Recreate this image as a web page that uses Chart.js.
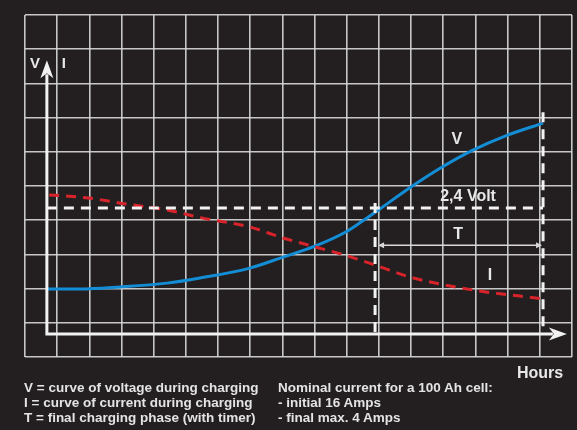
<!DOCTYPE html>
<html>
<head>
<meta charset="utf-8">
<script src="https://cdn.jsdelivr.net/npm/chart.js@4/dist/chart.umd.min.js"></script>
<style>
  html, body { margin: 0; padding: 0; background: #231f20; }
  #wrap { position: relative; width: 577px; height: 430px; overflow: hidden; background: #231f20; }
  canvas { position: absolute; left: 0; top: 0; }
  .note { position: absolute; top: 380px; font: bold 13.5px "Liberation Sans", Arial, sans-serif; line-height: 15.2px; color: #e4e4e4; white-space: pre; }
</style>
</head>
<body>
<div id="wrap">
  <canvas id="c" width="577" height="430"></canvas>
  <div class="note" id="noteL" style="left:24px"></div>
  <div class="note" id="noteR" style="left:278px"></div>
</div>
<script>
// ---- data (grid units: 17 columns of time, 10 rows) ----
const voltHours   = [0.68, 1.71, 2.95, 4.41, 5.44, 6.99, 8.02, 9.01, 9.94, 10.48, 11.03, 11.96, 12.90, 13.92, 14.92, 16.10];
const voltValues  = [1.99, 1.99, 2.05, 2.16, 2.31, 2.60, 2.92, 3.24, 3.64, 3.97, 4.33, 4.95, 5.52, 6.05, 6.46, 6.84];
const currHours   = [0.75, 1.96, 3.17, 4.41, 5.53, 6.99, 8.02, 9.01, 9.94, 10.88, 11.96, 13.92, 16.10];
const currValues  = [4.74, 4.65, 4.47, 4.30, 4.06, 3.80, 3.48, 3.22, 2.98, 2.69, 2.34, 1.96, 1.70];
const axisOrigin  = [0.68, 0.67];
const axisTips    = [16.84, 8.68];
const finalVoltage = 4.36;          // "2,4 Volt" level
const phaseStart  = 10.88;          // start of final phase T
const phaseEnd    = 16.10;          // end of charging (timer)
const phaseArrowY = 3.27;
const rightLineTop = 7.16;
const leftLineTop  = 4.50;
const labels = [
  { text: "V",        x: 0.31,  y: 8.57, size: 15 },
  { text: "I",        x: 1.21,  y: 8.57, size: 15 },
  { text: "V",        x: 13.42, y: 6.35, size: 16 },
  { text: "2,4 Volt", x: 13.77, y: 4.68, size: 16 },
  { text: "T",        x: 13.46, y: 3.57, size: 16 },
  { text: "I",        x: 14.45, y: 2.37, size: 16 }
];
const notesLeft  = ["V = curve of voltage during charging", "I = curve of current during charging", "T = final charging phase (with timer)"];
const notesRight = ["Nominal current for a 100 Ah cell:", "- initial 16 Amps", "- final max. 4 Amps"];
const xTitle = "Hours";

document.getElementById('noteL').textContent = notesLeft.join("\n");
document.getElementById('noteR').textContent = notesRight.join("\n");

const pts = (xs, ys) => xs.map((x, i) => ({ x: x, y: ys[i] }));

const white = '#f2f2f2';
const dashStyle = { borderColor: white, borderWidth: 3, borderDash: [10, 7], pointRadius: 0, fill: false, tension: 0 };

const overlay = {
  id: 'overlay',
  afterDatasetsDraw(chart) {
    const ctx = chart.ctx, xs = chart.scales.x, ys = chart.scales.y;
    const X = v => xs.getPixelForValue(v), Y = v => ys.getPixelForValue(v);
    ctx.save();
    // axes
    const ox = X(axisOrigin[0]), oy = Y(axisOrigin[1]);
    const tx = X(axisTips[0]), ty = Y(axisTips[1]);
    ctx.strokeStyle = white; ctx.fillStyle = white; ctx.lineWidth = 3; ctx.setLineDash([]);
    ctx.beginPath();
    ctx.moveTo(ox, ty + 14); ctx.lineTo(ox, oy); ctx.lineTo(tx - 14, oy);
    ctx.stroke();
    // arrowheads
    ctx.beginPath();
    ctx.moveTo(ox, ty); ctx.lineTo(ox - 6.5, ty + 18); ctx.lineTo(ox, ty + 13); ctx.lineTo(ox + 6.5, ty + 18); ctx.closePath(); ctx.fill();
    ctx.beginPath();
    ctx.moveTo(tx, oy); ctx.lineTo(tx - 18, oy - 6.5); ctx.lineTo(tx - 13, oy); ctx.lineTo(tx - 18, oy + 6.5); ctx.closePath(); ctx.fill();
    // T arrow
    const ay = Y(phaseArrowY), ax1 = X(phaseStart) + 3, ax2 = X(phaseEnd) - 1;
    ctx.strokeStyle = '#d8d8d8'; ctx.fillStyle = '#d8d8d8'; ctx.lineWidth = 1.5;
    ctx.beginPath(); ctx.moveTo(ax1 + 3, ay); ctx.lineTo(ax2 - 3, ay); ctx.stroke();
    ctx.beginPath(); ctx.moveTo(ax1, ay); ctx.lineTo(ax1 + 6, ay - 3); ctx.lineTo(ax1 + 6, ay + 3); ctx.closePath(); ctx.fill();
    ctx.beginPath(); ctx.moveTo(ax2, ay); ctx.lineTo(ax2 - 6, ay - 3); ctx.lineTo(ax2 - 6, ay + 3); ctx.closePath(); ctx.fill();
    // labels
    ctx.fillStyle = '#e8e8e8'; ctx.textAlign = 'center'; ctx.textBaseline = 'middle';
    labels.forEach(l => {
      ctx.font = 'bold ' + l.size + 'px "Liberation Sans", Arial, sans-serif';
      ctx.fillText(l.text, X(l.x), Y(l.y));
    });
    // axis title
    ctx.font = 'bold 16px "Liberation Sans", Arial, sans-serif';
    ctx.textAlign = 'left'; ctx.textBaseline = 'alphabetic';
    ctx.fillText(xTitle, 517, 378);
    ctx.restore();
  }
};

new Chart(document.getElementById('c'), {
  type: 'line',
  data: {
    datasets: [
      Object.assign({ label: 'limit', data: [{ x: axisOrigin[0], y: finalVoltage }, { x: phaseEnd, y: finalVoltage }] }, dashStyle),
      Object.assign({ label: 'end', data: [{ x: phaseEnd, y: rightLineTop }, { x: phaseEnd, y: axisOrigin[1] }] }, dashStyle),
      Object.assign({ label: 'start', data: [{ x: phaseStart, y: leftLineTop }, { x: phaseStart, y: axisOrigin[1] }] }, dashStyle),
      { label: 'I', data: pts(currHours, currValues), borderColor: '#d9232b', borderWidth: 3, borderDash: [10, 7],
        pointRadius: 0, cubicInterpolationMode: 'monotone', fill: false },
      { label: 'V', data: pts(voltHours, voltValues), borderColor: '#138ed6', borderWidth: 3,
        pointRadius: 0, cubicInterpolationMode: 'monotone', fill: false }
    ]
  },
  options: {
    responsive: false,
    animation: false,
    devicePixelRatio: 1,
    layout: { padding: { left: 25, top: 15, right: 5, bottom: 73 } },
    plugins: { legend: { display: false }, tooltip: { enabled: false } },
    elements: { line: { borderCapStyle: 'butt' } },
    scales: {
      x: { type: 'linear', min: 0, max: 17, ticks: { display: false, stepSize: 1 },
           grid: { color: 'rgba(214,214,214,0.92)', lineWidth: 1.6, drawTicks: false }, border: { display: false } },
      y: { type: 'linear', min: 0, max: 10, ticks: { display: false, stepSize: 1 },
           grid: { color: 'rgba(214,214,214,0.92)', lineWidth: 1.6, drawTicks: false }, border: { display: false } }
    }
  },
  plugins: [overlay]
});
</script>
</body>
</html>
